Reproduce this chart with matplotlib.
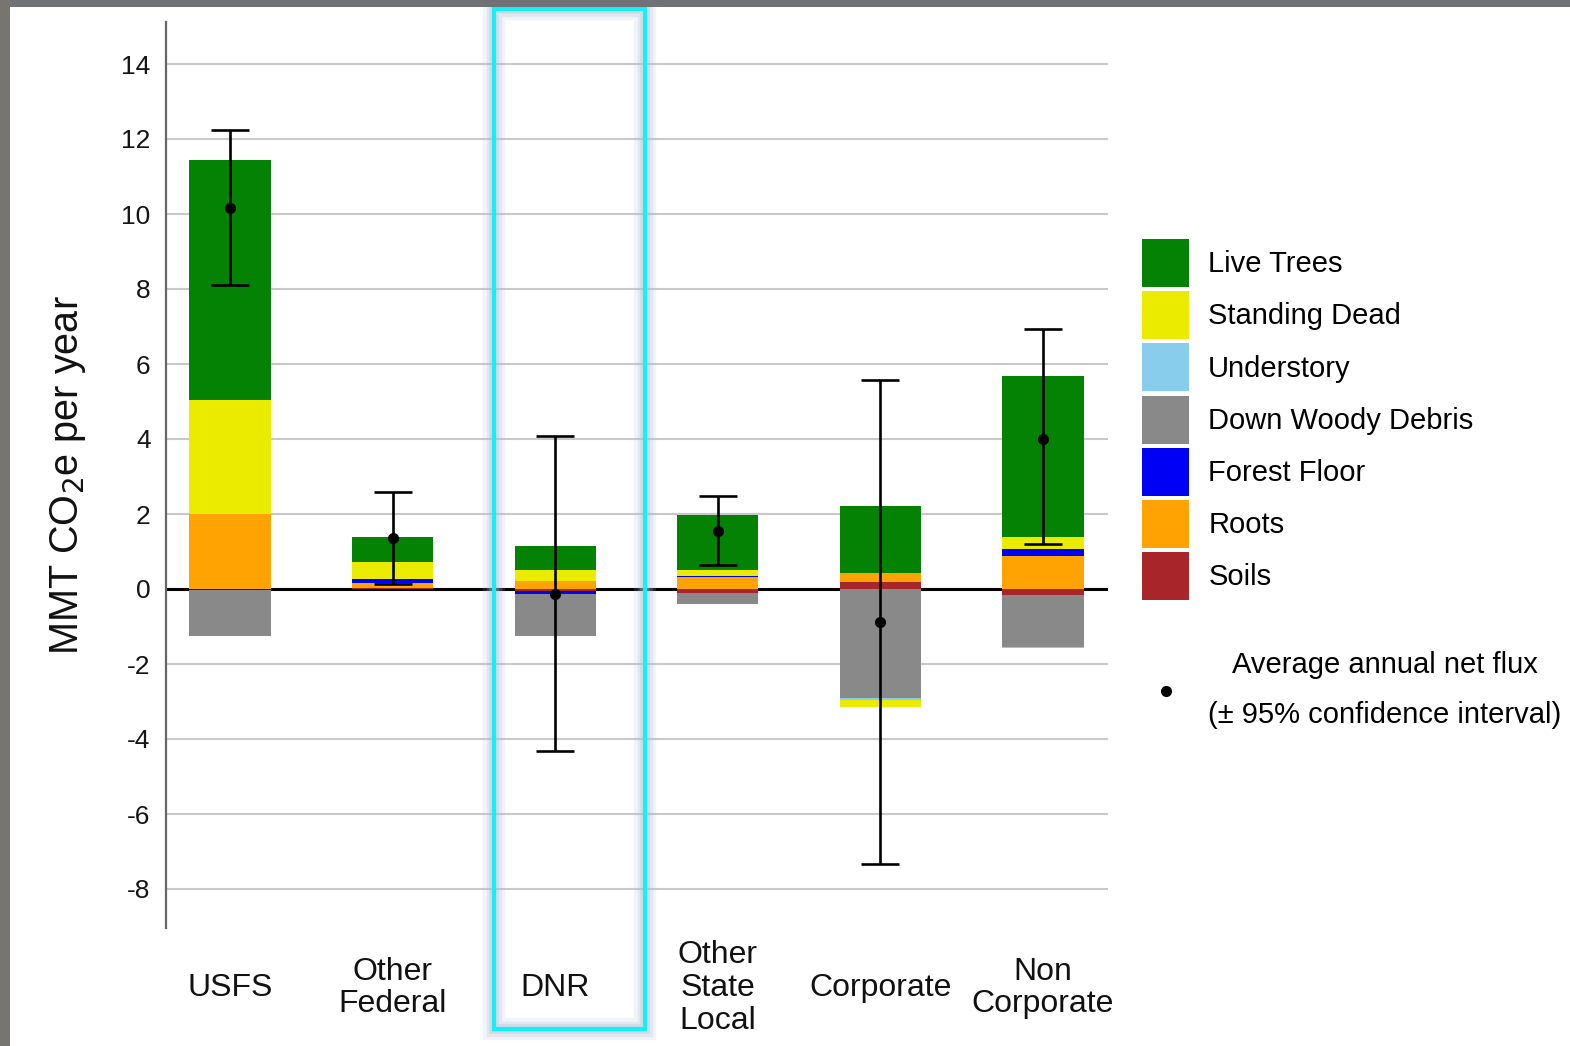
import matplotlib
matplotlib.use("Agg")
import matplotlib.pyplot as plt
import matplotlib.transforms as mtransforms
from matplotlib.patches import Rectangle, Patch
from matplotlib.lines import Line2D
import numpy as np

plt.rcParams["font.family"] = ["Liberation Sans", "DejaVu Sans"]

# Ownership groups and net carbon flux by pool (MMT CO2e per year)
categories = ["USFS", "Other\nFederal", "DNR", "Other\nState\nLocal", "Corporate", "Non\nCorporate"]

live_trees = [6.40, 0.69, 0.65, 1.46, 1.77, 4.29]
standing_dead = [3.05, 0.43, 0.30, 0.16, -0.20, 0.30]
understory = [0.00, 0.00, 0.00, 0.00, -0.05, -0.03]
down_woody_debris = [-1.22, 0.00, -1.13, -0.30, -2.90, -1.39]
forest_floor = [-0.03, 0.11, -0.07, 0.03, 0.00, 0.20]
roots = [2.00, 0.15, 0.21, 0.33, 0.24, 0.88]
soils = [0.00, 0.02, -0.05, -0.10, 0.20, -0.16]

net_flux = [10.15, 1.36, -0.12, 1.56, -0.89, 4.01]
ci_low = [8.10, 0.13, -4.32, 0.64, -7.33, 1.21]
ci_high = [12.25, 2.59, 4.09, 2.48, 5.57, 6.93]

legend_labels = ["Live Trees", "Standing Dead", "Understory", "Down Woody Debris",
                 "Forest Floor", "Roots", "Soils"]
pool_colors = {
    "Live Trees": "#038203",
    "Standing Dead": "#EBEB00",
    "Understory": "#88CDEB",
    "Down Woody Debris": "#898989",
    "Forest Floor": "#0000F5",
    "Roots": "#FFA302",
    "Soils": "#A8262A",
}
# stacking order outward from zero
stack_order = [("Soils", soils), ("Roots", roots), ("Forest Floor", forest_floor),
               ("Down Woody Debris", down_woody_debris), ("Understory", understory),
               ("Standing Dead", standing_dead), ("Live Trees", live_trees)]

W, H = 1570, 1046
fig = plt.figure(figsize=(W / 100, H / 100), dpi=100)
fig.patch.set_facecolor("white")

ax_l, ax_r, ax_t, ax_b = 166, 1108, 22, 928
ax = fig.add_axes([ax_l / W, 1 - ax_b / H, (ax_r - ax_l) / W, (ax_b - ax_t) / H])

x = np.arange(len(categories))
bar_w = 0.5
pos_base = np.zeros(len(categories))
neg_base = np.zeros(len(categories))
for name, vals in stack_order:
    v = np.array(vals, dtype=float)
    pos = np.where(v > 0, v, 0)
    neg = np.where(v < 0, v, 0)
    ax.bar(x, pos, bar_w, bottom=pos_base, color=pool_colors[name], linewidth=0, zorder=3)
    ax.bar(x, neg, bar_w, bottom=neg_base, color=pool_colors[name], linewidth=0, zorder=3)
    pos_base += pos
    neg_base += neg

net = np.array(net_flux)
yerr = np.vstack([net - np.array(ci_low), np.array(ci_high) - net])
ax.errorbar(x, net, yerr=yerr, fmt="o", color="black", ecolor="black",
            markersize=7, elinewidth=1.9, capsize=14, capthick=1.9, zorder=5)

# axes styling
ax.set_xlim(-64 / 162.6, (ax_r - 230) / 162.6)
ax.set_ylim(-(ax_b - 589) / 37.5, (589 - ax_t) / 37.5)
ax.set_yticks(np.arange(-8, 15, 2))
ax.set_yticklabels([str(v) for v in range(-8, 15, 2)])
ax.tick_params(axis="y", length=0, pad=11, labelsize=19, labelcolor="#151515")
ax.set_xticks([])
for s in ["top", "right", "bottom"]:
    ax.spines[s].set_visible(False)
ax.spines["left"].set_color("#666666")
ax.spines["left"].set_linewidth(1.6)
ax.yaxis.grid(True, color="#c9c9c9", linewidth=1.5, zorder=0)
ax.set_axisbelow(True)
ax.axhline(0, color="black", linewidth=2.2, zorder=2)

ax.set_ylabel("MMT CO$_2$e per year", fontsize=28.5, labelpad=24, color="#111111")

# category labels under the plot
lbl_tr = mtransforms.blended_transform_factory(ax.transData, fig.transFigure)
for xi, cat in zip(x, categories):
    ax.text(xi, 1 - 988 / H, cat, transform=lbl_tr, ha="center", va="center",
            fontsize=23, linespacing=1.12, color="#111111", clip_on=False)

# pool legend
handles = [Patch(facecolor=pool_colors[n], edgecolor="none") for n in legend_labels]
leg1 = fig.legend(handles, legend_labels, loc="upper left",
                  bbox_to_anchor=(1142 / W, 1 - 239 / H), bbox_transform=fig.transFigure,
                  frameon=False, fontsize=21, handlelength=1.62, handleheight=2.16,
                  labelspacing=0.14, handletextpad=0.65, borderpad=0, borderaxespad=0)

# net flux legend
flux_handle = Line2D([], [], marker="o", color="black", linestyle="none", markersize=7)
leg2 = fig.legend([flux_handle], ["Average annual net flux\n(\u00b1 95% confidence interval)"],
                  loc="upper left", bbox_to_anchor=(1142 / W, 1 - 651 / H),
                  bbox_transform=fig.transFigure, frameon=False, fontsize=21,
                  handlelength=1.62, handletextpad=0.65, borderpad=0, borderaxespad=0)
for t in leg2.get_texts():
    t.set_multialignment("center")
    t.set_linespacing(2.0)

# highlight frame around DNR with a soft glow
rx0, rx1, ry0, ry1 = 494, 645, 9, 1029
for lw, a in [(16, 0.16), (11, 0.22), (7, 0.3)]:
    fig.add_artist(Rectangle((rx0 / W, 1 - ry1 / H), (rx1 - rx0) / W, (ry1 - ry0) / H,
                             transform=fig.transFigure, fill=False,
                             edgecolor="#a9c0d6", linewidth=lw, alpha=a, zorder=10))
fig.add_artist(Rectangle((rx0 / W, 1 - ry1 / H), (rx1 - rx0) / W, (ry1 - ry0) / H,
                         transform=fig.transFigure, fill=False,
                         edgecolor="#14F0F5", linewidth=3.0, zorder=11))

# window border strips
fig.add_artist(Rectangle((0, 1 - 7 / H), 1, 7 / H, transform=fig.transFigure,
                         facecolor="#717178", edgecolor="none", zorder=12))
fig.add_artist(Rectangle((0, 0), 10 / W, 1, transform=fig.transFigure,
                         facecolor="#77756f", edgecolor="none", zorder=12))

fig.savefig("out.png", dpi=100)
